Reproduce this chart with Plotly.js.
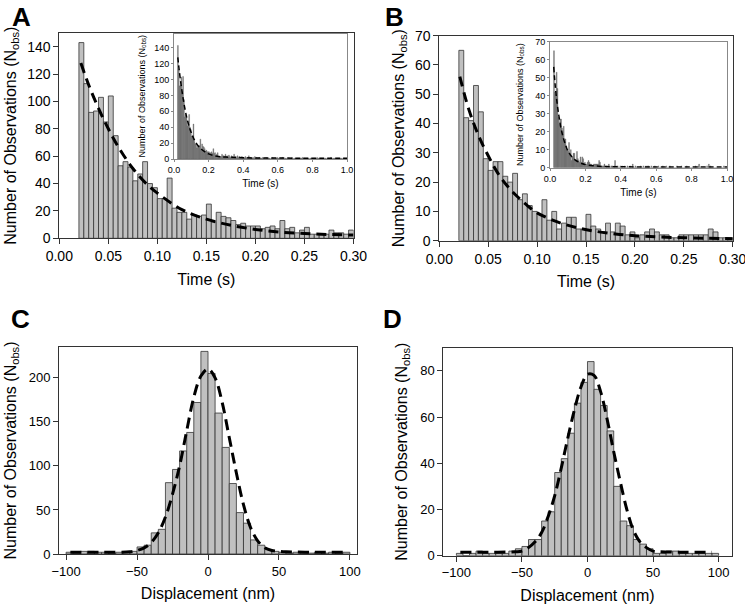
<!DOCTYPE html>
<html>
<head>
<meta charset="utf-8">
<script src="https://cdn.plot.ly/plotly-3.0.1.min.js"></script>
<style>html,body{margin:0;padding:0;background:#fff;}#chart{width:745px;height:606px;}</style>
</head>
<body>
<div id="chart"></div>
<script>
// ---------- DATA ----------
// Dwell-time histograms (bins of 0.005 s starting at 0.02 s)
const timeBinStart = 0.02;
const timeBinWidth = 0.005;
const countsA = [143,113,92,93,103,85,104,75,53,56,52,42,47,56,40,37,29,29,44,22,
                 19,19,14,17,16,17,25,12,19,16,15,13,10,11,9,9,9,7,8,9,
                 7,13,7,8,4,6,8,3,3,3,3,6,4,4,3,6];
const countsB = [65,42,41,53,44,28,24,27,27,22,20,23,14,16,12,10,9,14,7,10,
                 4,6,8,8,4,4,9,5,4,3,6,3,6,5,2,3,1,2,3,4,
                 3,2,2,1,1,2,2,2,2,2,2,4,3,1,1,1];
// tails shown only in the insets (0.30 s to 1.0 s)
const tailStart = 0.30;
const tailA = [3,4,2,5,3,2,4,3,2,6, 2,3,1,4,2,3,2,1,3,2, 2,1,3,2,1,2,4,1,2,1, 1,2,1,3,1,2,1,1,2,1,
               1,1,2,1,1,0,2,1,1,1, 1,0,1,2,1,1,0,1,1,2, 1,1,0,1,1,2,1,0,1,1, 0,1,1,1,0,1,2,1,0,1,
               1,0,1,1,1,0,1,1,2,1, 1,1,0,1,1,1,0,1,1,1, 0,1,1,0,1,2,1,1,0,1, 1,1,1,0,1,1,0,1,1,0,
               1,2,1,0,1,1,1,0,1,1, 1,0,1,1,0,1,1,1,0,1];
const tailB = [1,2,0,1,1,0,2,1,0,1, 1,0,1,4,0,1,1,0,0,1, 0,1,0,0,1,0,0,1,0,0, 1,0,0,2,0,0,1,0,0,0,
               0,0,1,0,0,1,0,0,1,0, 1,1,0,0,1,0,0,0,1,0, 0,0,1,0,0,0,0,1,0,0, 0,1,0,0,0,1,0,0,0,0,
               0,0,0,1,0,0,0,0,1,0, 0,0,0,0,1,0,0,0,0,0, 0,0,0,0,1,0,0,1,2,0, 0,0,0,0,0,0,0,1,0,2,
               0,1,0,0,0,0,0,0,0,0, 0,0,0,0,0,0,1,0,0,0];
// exponential fits
const fitTimeA = [0.022,0.03,0.04,0.05,0.06,0.075,0.09,0.10,0.125,0.15,0.175,0.20,0.225,0.25,0.275,0.30];
const fitValA  = [128,112,95,80,67,51,39,33,21,14,9.5,6.5,4.5,3.5,2.8,2.4];
const fitTimeB = [0.021,0.03,0.04,0.05,0.06,0.07,0.08,0.09,0.10,0.12,0.14,0.16,0.18,0.20,0.25,0.30];
const fitValB  = [56,45,36,29,23,18.5,15,12,9.5,6.5,4.5,3.2,2.3,1.7,1.0,0.7];
const fitTailTime = [0.40,0.60,0.80,1.00];
const fitTailA = [1.6,1.2,1.0,1.0];
const fitTailB = [0.5,0.4,0.4,0.4];
const timeTicks = [0, 0.05, 0.10, 0.15, 0.20, 0.25, 0.30];
const timeTickText = ['0.00','0.05','0.10','0.15','0.20','0.25','0.30'];
const insetTicks = [0, 0.2, 0.4, 0.6, 0.8, 1.0];
const insetTickText = ['0.0','0.2','0.4','0.6','0.8','1.0'];

// Displacement histograms (bins of 5 nm from -100 nm)
const dispBinStart = -100;
const dispBinWidth = 5;
const countsC = [2,1,3,3,2,2,1,2,2,3, 8,10,24,28,81,96,117,138,172,230,
                 205,160,121,80,47,35,16,10,5,3, 2,1,2,1,1,2,1,2,1,2];
const countsD = [1,0,1,2,1,1,1,1,2,3, 4,7,7,15,19,36,42,53,66,75,
                 84,72,65,54,30,15,13,7,5,3, 1,1,2,2,1,1,1,1,1,1];
// Gaussian fits
const fitDispC = [-97,-75,-55,-50,-45,-40,-35,-30,-25,-20,-15,-10,-5,0,5,10,15,20,25,30,35,40,45,50,55,75,97];
const fitValC  = [2,2,2.5,4,7,13,24,42,68,100,140,178,202,210,200,172,132,92,56,30,15,7,4,3,2.5,2,2];
const fitDispD = [-97,-75,-55,-50,-45,-40,-35,-30,-25,-20,-15,-10,-5,0,5,10,15,20,25,30,35,40,45,50,55,75,95];
const fitValD  = [1.5,1.5,1.7,2,3.5,6,10,17,26,38,51,63,73,78.5,78,71,59,45,32,20,11,6,3.5,2,1.7,1.5,1.5];

// ---------- BUILD ----------
const centers = (arr, start, w) => arr.map((_, i) => start + w * (i + 0.5));
const FONT = 'Liberation Sans, Arial, Helvetica, sans-serif';
const barFill = '#c0c0c0', barEdge = '#333';
const insetFill = '#7a7a7a', insetEdge = '#555';

const xA = centers(countsA, timeBinStart, timeBinWidth);
const xB = centers(countsB, timeBinStart, timeBinWidth);
const xTail = centers(tailA, tailStart, timeBinWidth);
const xC = centers(countsC, dispBinStart, dispBinWidth);
const xD = centers(countsD, dispBinStart, dispBinWidth);

function bars(x, y, w, xa, ya, fill, edge, lw) {
  return {type:'bar', x:x, y:y, width:w, xaxis:xa, yaxis:ya,
          marker:{color:fill, line:{color:edge, width:lw}}, showlegend:false, hoverinfo:'x+y'};
}
function fit(x, y, xa, ya, w, dash) {
  return {type:'scatter', mode:'lines', x:x, y:y, xaxis:xa, yaxis:ya,
          line:{color:'#000', width:w, dash:dash, shape:'spline', smoothing:1}, showlegend:false};
}

const traces = [
  bars(xA, countsA, timeBinWidth, 'x', 'y', barFill, barEdge, 0.8),
  fit(fitTimeA, fitValA, 'x', 'y', 3, '10px,6px'),
  bars(xB, countsB, timeBinWidth, 'x2', 'y2', barFill, barEdge, 0.8),
  fit(fitTimeB, fitValB, 'x2', 'y2', 3, '10px,6px'),
  bars(xC, countsC, dispBinWidth, 'x3', 'y3', barFill, barEdge, 0.8),
  fit(fitDispC, fitValC, 'x3', 'y3', 3, '11px,6px'),
  bars(xD, countsD, dispBinWidth, 'x4', 'y4', barFill, barEdge, 0.8),
  fit(fitDispD, fitValD, 'x4', 'y4', 3, '11px,6px'),
  bars(xA.concat(xTail), countsA.concat(tailA), timeBinWidth, 'x5', 'y5', insetFill, insetEdge, 0.3),
  fit(fitTimeA.concat(fitTailTime), fitValA.concat(fitTailA), 'x5', 'y5', 1.5, '5px,3px'),
  bars(xB.concat(xTail), countsB.concat(tailB), timeBinWidth, 'x6', 'y6', insetFill, insetEdge, 0.3),
  fit(fitTimeB.concat(fitTailTime), fitValB.concat(fitTailB), 'x6', 'y6', 1.5, '5px,3px')
];

const W = 745, H = 606;
const dx = (a, b) => [a / W, b / W];
const dy = (top, bottom) => [1 - bottom / H, 1 - top / H];
const yTitle = 'Number of Observations (N<sub>obs</sub>)';

function ax(opts) {
  return Object.assign({
    showline:true, linecolor:'#333', linewidth:1, mirror:true,
    ticks:'outside', ticklen:5, tickcolor:'#333', tickwidth:1,
    showgrid:false, zeroline:false, fixedrange:true, ticklabeloverflow:'allow',
    tickfont:{family:FONT, size:14, color:'#000'}
  }, opts);
}
function inset(opts) {
  return ax(Object.assign({linecolor:'#888', tickcolor:'#888', ticklen:2,
          tickfont:{family:FONT, size:9, color:'#000'}}, opts));
}

const layout = {
  width:W, height:H, margin:{l:0, r:0, t:0, b:0},
  paper_bgcolor:'#fff', plot_bgcolor:'rgba(0,0,0,0)',
  font:{family:FONT, color:'#000'},
  bargap:0, barmode:'overlay', showlegend:false,
  xaxis: ax({domain:dx(59.3, 353.5), anchor:'y', range:[0, 0.30], tickmode:'array',
           tickvals:timeTicks, ticktext:timeTickText,
           title:{text:'Time (s)', font:{size:16}, standoff:10}}),
  yaxis: ax({domain:dy(33, 238.3), anchor:'x', range:[0, 150], dtick:20,
           title:{text:yTitle, font:{size:16}, standoff:6}}),
  xaxis2: ax({domain:dx(439.3, 732.7), anchor:'y2', range:[0, 0.30], tickmode:'array',
           tickvals:timeTicks, ticktext:timeTickText,
           title:{text:'Time (s)', font:{size:16}, standoff:10}}),
  yaxis2: ax({domain:dy(35.7, 240.7), anchor:'x2', range:[0, 70], dtick:10,
           title:{text:yTitle, font:{size:16}, standoff:6}}),
  xaxis3: ax({domain:dx(59, 357), anchor:'y3', range:[-105, 105], dtick:50,
           tickfont:{family:FONT, size:13, color:'#000'},
           title:{text:'Displacement (nm)', font:{size:16}, standoff:10}}),
  yaxis3: ax({domain:dy(347, 554), anchor:'x3', range:[0, 235], dtick:50,
           tickfont:{family:FONT, size:13, color:'#000'},
           title:{text:yTitle, font:{size:16}, standoff:8}}),
  xaxis4: ax({domain:dx(443.3, 731.7), anchor:'y4', range:[-110, 110], dtick:50,
           tickfont:{family:FONT, size:13, color:'#000'},
           title:{text:'Displacement (nm)', font:{size:16}, standoff:10}}),
  yaxis4: ax({domain:dy(347.7, 555.7), anchor:'x4', range:[0, 90], dtick:20,
           tickfont:{family:FONT, size:13, color:'#000'},
           title:{text:yTitle, font:{size:16}, standoff:8}}),
  xaxis5: inset({domain:dx(174, 347), anchor:'y5', range:[0, 1], tickmode:'array',
           tickvals:insetTicks, ticktext:insetTickText,
           title:{text:'Time (s)', font:{size:10}, standoff:6}}),
  yaxis5: inset({domain:dy(33.5, 159), anchor:'x5', range:[0, 158], dtick:20,
           title:{text:yTitle, font:{size:9}, standoff:7}}),
  xaxis6: inset({domain:dx(550, 727), anchor:'y6', range:[0, 1], tickmode:'array',
           tickvals:insetTicks, ticktext:insetTickText,
           title:{text:'Time (s)', font:{size:10}, standoff:6}}),
  yaxis6: inset({domain:dy(41.7, 167.7), anchor:'x6', range:[0, 70], dtick:10,
           title:{text:yTitle, font:{size:9}, standoff:10}}),
  annotations: [
    {text:'<b>A</b>', x:21/W, y:1-17/H},
    {text:'<b>B</b>', x:394/W, y:1-17/H},
    {text:'<b>C</b>', x:20/W, y:1-319/H},
    {text:'<b>D</b>', x:393/W, y:1-319/H}
  ].map(a => Object.assign({xref:'paper', yref:'paper', showarrow:false,
        xanchor:'center', yanchor:'middle', font:{family:FONT, size:26, color:'#000'}}, a))
};

Plotly.newPlot('chart', traces, layout, {staticPlot:true, displayModeBar:false});
</script>
</body>
</html>
